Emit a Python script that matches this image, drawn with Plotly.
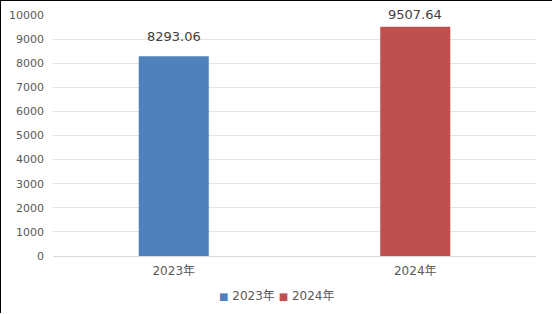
import plotly.graph_objects as go

categories = ["2023年", "2024年"]
values = [8293.06, 9507.64]
labels = ["8293.06", "9507.64"]
colors = ["#4F81BD", "#C0504D"]

FONT = "DejaVu Sans, Noto Sans CJK SC, sans-serif"
W, H = 552, 314
L, R, T, B = 53, 16, 15, 58
pw, ph = W - L - R, H - T - B
label_yshift = [10, 3]

fig = go.Figure()
for c, v, col in zip(categories, values, colors):
    fig.add_trace(go.Bar(x=[c], y=[v], name=c, marker=dict(color=col, line=dict(width=0)),
                         width=0.29, showlegend=False))

for c, v, t, s in zip(categories, values, labels, label_yshift):
    fig.add_annotation(x=c, y=v, text=t, showarrow=False, yanchor="bottom", yshift=s,
                       font=dict(size=13, color="#404040", family=FONT))

def px_to_paper_x(px):
    return (px - L) / pw

def px_to_paper_y(py):
    return (H - B - py) / ph

# legend built as text: coloured squares followed by category names
legend_parts = []
for c, col in zip(categories, colors):
    legend_parts.append(f"<span style='color:{col};font-size:10px'>■</span> {c}")
legend_text = " ".join(legend_parts)
fig.add_annotation(xref="paper", yref="paper", x=px_to_paper_x(276), y=px_to_paper_y(296),
                   xanchor="center", yanchor="middle", showarrow=False, text=legend_text,
                   font=dict(size=12, color="#595959", family=FONT))

fig.add_shape(type="line", xref="paper", yref="paper",
              x0=px_to_paper_x(0.5), x1=px_to_paper_x(0.5),
              y0=px_to_paper_y(0), y1=px_to_paper_y(313),
              line=dict(color="black", width=1))
fig.add_shape(type="line", xref="paper", yref="paper",
              x0=px_to_paper_x(0), x1=px_to_paper_x(W),
              y0=px_to_paper_y(0.5), y1=px_to_paper_y(0.5),
              line=dict(color="black", width=1))

fig.update_layout(
    width=W, height=H,
    margin=dict(l=L, r=R, t=T, b=B, autoexpand=False),
    plot_bgcolor="white", paper_bgcolor="white",
    barmode="overlay",
    font=dict(family=FONT, size=11, color="#595959"),
    xaxis=dict(type="category", categoryorder="array", categoryarray=categories,
               showgrid=False, showline=True, linecolor="#D9D9D9", linewidth=1,
               tickfont=dict(size=12, color="#595959"), ticks="", ticklabelstandoff=4,
               automargin=False),
    yaxis=dict(range=[0, 10000], dtick=1000, tickformat="d", showgrid=True,
               gridcolor="#E3E3E3", gridwidth=1,
               zeroline=False, showline=False, ticks="", automargin=False,
               tickfont=dict(size=11, color="#595959"), ticklabelstandoff=8),
    showlegend=False,
)

fig.write_html("out.html")
